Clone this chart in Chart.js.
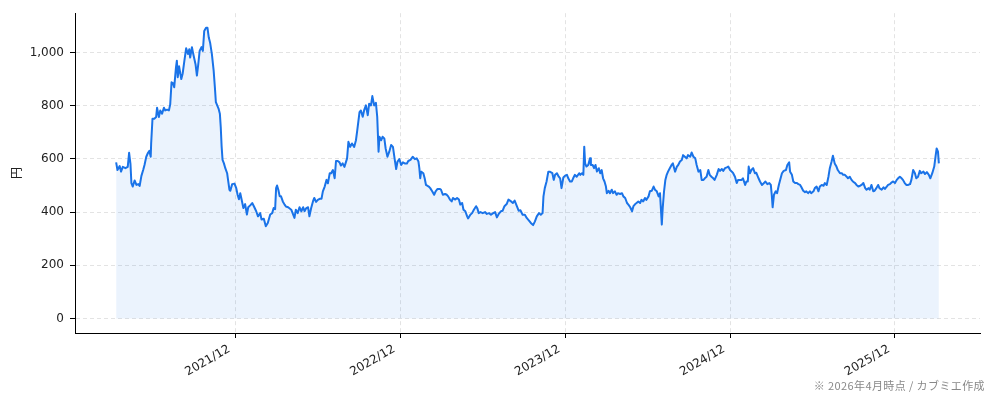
<!DOCTYPE html>
<html>
<head>
<meta charset="utf-8">
<script src="https://cdn.jsdelivr.net/npm/chart.js@4.4.1/dist/chart.umd.min.js"></script>
<style>
html,body{margin:0;padding:0;background:#fff;}
#wrap{position:relative;width:994px;height:401px;}
#note{position:absolute;right:9px;top:377px;font:11px "Noto Sans CJK JP",sans-serif;color:#888;letter-spacing:0.4px;white-space:nowrap;}
</style>
</head>
<body>
<div id="wrap">
<canvas id="c" width="994" height="401"></canvas>
<div id="note">※ 2026年4月時点 / カブミエ作成</div>
</div>
<script>
const dates = [
'2021-03-11','2021-03-14','2021-03-19','2021-03-22','2021-03-26',
'2021-04-01','2021-04-06','2021-04-09','2021-04-12','2021-04-14','2021-04-17','2021-04-21','2021-04-25','2021-04-29',
'2021-05-02','2021-05-06','2021-05-10','2021-05-13','2021-05-17','2021-05-21','2021-05-24','2021-05-27','2021-05-28','2021-05-31',
'2021-06-04','2021-06-08','2021-06-10','2021-06-14','2021-06-17','2021-06-21','2021-06-25','2021-06-28',
'2021-07-02','2021-07-06','2021-07-09','2021-07-12','2021-07-15','2021-07-18','2021-07-22','2021-07-24','2021-07-26','2021-07-29',
'2021-08-03','2021-08-06','2021-08-10','2021-08-14','2021-08-18','2021-08-21','2021-08-23','2021-08-27','2021-08-30',
'2021-09-04','2021-09-07','2021-09-10','2021-09-13','2021-09-17','2021-09-20','2021-09-23','2021-09-27','2021-09-30',
'2021-10-03','2021-10-06','2021-10-10','2021-10-14','2021-10-17','2021-10-19','2021-10-22','2021-10-25','2021-10-28','2021-10-30',
'2021-11-01','2021-11-03','2021-11-06','2021-11-09','2021-11-13','2021-11-15','2021-11-18','2021-11-20','2021-11-24','2021-11-29',
'2021-12-03','2021-12-06','2021-12-09','2021-12-12','2021-12-16','2021-12-19','2021-12-23','2021-12-27','2021-12-30',
'2022-01-04','2022-01-08','2022-01-12','2022-01-17','2022-01-21','2022-01-26','2022-01-29',
'2022-02-03','2022-02-07','2022-02-11','2022-02-16','2022-02-20','2022-02-23','2022-02-26','2022-02-28',
'2022-03-02','2022-03-05','2022-03-08','2022-03-11','2022-03-15','2022-03-19','2022-03-22','2022-03-27',
'2022-04-03','2022-04-07','2022-04-10','2022-04-13','2022-04-17','2022-04-21','2022-04-25','2022-04-29',
'2022-05-02','2022-05-06','2022-05-10','2022-05-13','2022-05-17','2022-05-21','2022-05-24','2022-05-28',
'2022-06-01','2022-06-05','2022-06-09','2022-06-12','2022-06-16','2022-06-20','2022-06-23','2022-06-27','2022-06-30',
'2022-07-04','2022-07-08','2022-07-11','2022-07-15','2022-07-19','2022-07-22','2022-07-26','2022-07-30',
'2022-08-05','2022-08-08','2022-08-12','2022-08-16','2022-08-21','2022-08-25','2022-08-28',
'2022-09-02','2022-09-05','2022-09-09','2022-09-12','2022-09-16','2022-09-20','2022-09-23','2022-09-27','2022-09-30',
'2022-10-04','2022-10-08','2022-10-11','2022-10-14','2022-10-16','2022-10-20','2022-10-23','2022-10-27','2022-10-30',
'2022-11-03','2022-11-07','2022-11-11','2022-11-15','2022-11-19','2022-11-22','2022-11-25','2022-11-29',
'2022-12-03','2022-12-07','2022-12-11','2022-12-16','2022-12-19','2022-12-24','2022-12-29',
'2023-01-03','2023-01-07','2023-01-11','2023-01-13','2023-01-15','2023-01-17','2023-01-22','2023-01-25','2023-01-28',
'2023-02-03','2023-02-06','2023-02-10','2023-02-14','2023-02-17','2023-02-21','2023-02-26','2023-02-28',
'2023-03-04','2023-03-09','2023-03-13','2023-03-16','2023-03-20','2023-03-24','2023-03-27',
'2023-04-01','2023-04-05','2023-04-09','2023-04-12','2023-04-16','2023-04-19','2023-04-23','2023-04-27','2023-04-29',
'2023-05-04','2023-05-08','2023-05-12','2023-05-17','2023-05-20','2023-05-23','2023-05-27',
'2023-06-01','2023-06-06','2023-06-10','2023-06-15','2023-06-19','2023-06-23','2023-06-28',
'2023-07-02','2023-07-06','2023-07-11','2023-07-15','2023-07-19','2023-07-24','2023-07-28',
'2023-08-03','2023-08-07','2023-08-11','2023-08-16','2023-08-20','2023-08-24','2023-08-29',
'2023-09-03','2023-09-07','2023-09-12','2023-09-16','2023-09-21','2023-09-25','2023-09-29',
'2023-10-04','2023-10-08','2023-10-12','2023-10-14','2023-10-17','2023-10-21','2023-10-25','2023-10-28',
'2023-11-03','2023-11-06','2023-11-09','2023-11-13','2023-11-17','2023-11-20','2023-11-23','2023-11-27',
'2023-12-01','2023-12-05','2023-12-08','2023-12-12','2023-12-16','2023-12-19','2023-12-23','2023-12-27',
'2024-01-02','2024-01-04','2024-01-08','2024-01-11','2024-01-13','2024-01-15','2024-01-18','2024-01-22','2024-01-26','2024-01-28',
'2024-02-01','2024-02-04','2024-02-07','2024-02-10','2024-02-14','2024-02-17','2024-02-20','2024-02-23','2024-02-26','2024-02-29',
'2024-03-02','2024-03-06','2024-03-09','2024-03-13','2024-03-16','2024-03-20','2024-03-24','2024-03-27',
'2024-04-01','2024-04-05','2024-04-08','2024-04-12','2024-04-16','2024-04-19','2024-04-23','2024-04-27','2024-04-30',
'2024-05-04','2024-05-07','2024-05-11','2024-05-15','2024-05-18','2024-05-22','2024-05-26','2024-05-29',
'2024-06-03','2024-06-06','2024-06-10','2024-06-14','2024-06-17','2024-06-21','2024-06-25','2024-06-28',
'2024-07-02','2024-07-04','2024-07-07','2024-07-10','2024-07-13','2024-07-16','2024-07-20','2024-07-24','2024-07-27',
'2024-08-01','2024-08-05','2024-08-08','2024-08-12','2024-08-16','2024-08-19','2024-08-23','2024-08-27','2024-08-30',
'2024-09-04','2024-09-07','2024-09-11','2024-09-15','2024-09-18','2024-09-22','2024-09-26','2024-09-29',
'2024-10-03','2024-10-06','2024-10-10','2024-10-14','2024-10-17','2024-10-21','2024-10-25','2024-10-28',
'2024-11-02','2024-11-06','2024-11-09','2024-11-13','2024-11-16','2024-11-20','2024-11-24','2024-11-27',
'2024-12-01','2024-12-05','2024-12-08','2024-12-12','2024-12-16','2024-12-19','2024-12-23','2024-12-27','2024-12-30',
'2025-01-04','2025-01-07','2025-01-10','2025-01-12','2025-01-15','2025-01-18','2025-01-22','2025-01-26','2025-01-29',
'2025-02-03','2025-02-06','2025-02-10','2025-02-14','2025-02-17','2025-02-21','2025-02-25','2025-02-28',
'2025-03-02','2025-03-04','2025-03-07','2025-03-11','2025-03-14','2025-03-18','2025-03-22','2025-03-25','2025-03-29',
'2025-04-03','2025-04-06','2025-04-10','2025-04-12','2025-04-16','2025-04-19','2025-04-23','2025-04-27','2025-04-30',
'2025-05-04','2025-05-07','2025-05-11','2025-05-15','2025-05-18','2025-05-22','2025-05-26','2025-05-29',
'2025-06-03','2025-06-06','2025-06-10','2025-06-14','2025-06-17','2025-06-21','2025-06-25','2025-06-28',
'2025-07-02','2025-07-06','2025-07-09','2025-07-13','2025-07-16','2025-07-20','2025-07-24','2025-07-27',
'2025-08-01','2025-08-05','2025-08-08','2025-08-12','2025-08-16','2025-08-19','2025-08-23','2025-08-27','2025-08-30',
'2025-09-04','2025-09-07','2025-09-11','2025-09-15','2025-09-18','2025-09-22','2025-09-26','2025-09-29',
'2025-10-03','2025-10-06','2025-10-10','2025-10-14','2025-10-17','2025-10-21','2025-10-25','2025-10-28',
'2025-11-02','2025-11-06','2025-11-09','2025-11-13','2025-11-16','2025-11-20','2025-11-24','2025-11-27',
'2025-12-01','2025-12-05','2025-12-08','2025-12-12','2025-12-16','2025-12-19','2025-12-23','2025-12-27','2025-12-30',
'2026-01-04','2026-01-07','2026-01-11','2026-01-15','2026-01-18','2026-01-22','2026-01-26','2026-01-29',
'2026-02-03','2026-02-06','2026-02-10','2026-02-14','2026-02-17','2026-02-21','2026-02-25','2026-02-28',
'2026-03-02','2026-03-05','2026-03-07'
];
const prices = [
587,558,573,552,570,
565,570,623,580,509,496,519,502,505,
498,536,558,577,608,623,630,608,658,751,
751,757,792,757,782,770,792,782,
785,782,805,888,885,869,944,969,907,948,
900,920,969,1016,994,1012,981,1020,994,
956,913,956,1006,1020,1006,1081,1093,1093,
1056,1037,994,932,863,813,801,789,770,720,
646,596,583,565,546,521,484,480,505,507,
490,465,448,471,440,415,430,391,418,
426,434,421,403,384,396,372,
375,347,359,391,396,415,411,490,
500,483,459,459,440,428,421,418,
409,391,378,409,396,418,403,418,
403,415,418,384,415,440,453,438,
446,450,450,478,496,521,508,546,546,
558,527,592,592,587,575,583,570,
602,664,645,658,645,670,708,
776,782,758,782,801,764,807,801,836,
801,811,758,627,683,670,683,677,639,
608,627,652,645,596,562,590,599,
577,587,583,583,592,596,608,
599,602,590,565,527,552,546,527,502,
496,490,478,465,478,487,487,484,
465,468,465,459,447,440,453,
447,453,447,428,434,409,403,384,376,
390,396,409,422,413,396,400,
396,400,393,396,390,395,400,
380,393,403,405,422,430,447,
440,434,443,422,405,407,390,
390,378,368,359,351,365,384,
396,390,396,459,490,515,552,552,
546,521,540,546,533,527,490,530,
537,540,527,515,515,527,540,533,
546,540,546,540,646,583,571,577,602,577,
577,565,577,552,565,546,558,527,515,496,
471,480,471,484,471,478,465,471,
468,471,459,453,434,428,418,403,422,
430,434,440,434,446,440,453,446,
459,478,480,496,484,478,459,471,
353,415,478,521,540,552,565,577,583,
552,571,577,590,596,614,608,602,614,
608,624,608,602,577,552,558,521,
521,527,533,558,540,533,527,521,
540,562,555,562,555,565,568,571,
558,552,546,533,509,521,521,521,527,
502,515,515,571,546,558,565,546,548,
527,515,502,509,515,505,509,502,
465,418,465,478,471,502,527,546,555,
558,577,587,552,540,515,509,509,505,
502,493,480,475,478,471,478,471,
478,490,496,478,496,502,499,509,
502,534,565,590,612,583,571,558,
546,546,540,540,533,527,533,521,515,
509,502,496,499,502,509,490,484,
490,484,502,478,480,490,502,490,
484,493,487,496,502,505,512,515,
509,521,527,533,527,521,509,502,502,
505,521,558,546,527,533,555,546,
552,543,550,540,527,546,571,614,
639,627,583
];
const tickDates = ['2021-12-01','2022-12-01','2023-12-01','2024-12-01','2025-12-01'];
const tickLabels = ['2021/12','2022/12','2023/12','2024/12','2025/12'];
const yTicks = [0,200,400,600,800,1000];
const yTitle = '円';

function toMonths(s){
  const [y,m,d] = s.split('-').map(Number);
  const dim = new Date(Date.UTC(y, m, 0)).getUTCDate();
  return (y - 2021) * 12 + (m - 1) + (d - 1) / dim;
}
const points = dates.map((d, i) => ({x: toMonths(d), y: prices[i]}));
const xs = points.map(p => p.x);
const xLo = Math.min(...xs), xHi = Math.max(...xs), xSpan = xHi - xLo;
const yHiData = Math.max(...prices), ySpan = yHiData - 0;

const FONT = '"DejaVu Sans", "Noto Sans CJK JP", sans-serif';
const gridCommon = {color:'#e3e3e3', lineWidth:1, tickColor:'#000', tickLength:5, tickWidth:1, tickBorderDash:[]};
const borderCommon = {display:true, color:'#000', width:1, dash:[4,3]};

new Chart(document.getElementById('c'), {
  type: 'line',
  data: {
    datasets: [{
      data: points,
      borderColor: '#1a73e8',
      backgroundColor: 'rgba(26,115,232,0.085)',
      borderWidth: 2,
      pointRadius: 0,
      tension: 0,
      fill: 'origin',
      borderJoinStyle: 'round'
    }]
  },
  options: {
    responsive: false,
    animation: false,
    devicePixelRatio: 1,
    layout: {padding: {left: 0, top: 10, right: 14, bottom: 0}},
    plugins: {legend: {display: false}, tooltip: {enabled: false}},
    scales: {
      x: {
        type: 'linear',
        min: xLo - 0.05 * xSpan,
        max: xHi + 0.05 * xSpan,
        grid: gridCommon,
        border: borderCommon,
        afterBuildTicks: s => { s.ticks = tickDates.map(d => ({value: toMonths(d)})); },
        afterFit: s => { s.height = 68; },
        ticks: {
          autoSkip: false,
          minRotation: 30, maxRotation: 30,
          padding: 4,
          labelOffset: -6,
          color: '#222',
          font: {family: FONT, size: 12},
          callback: (v, i) => tickLabels[i]
        }
      },
      y: {
        type: 'linear',
        min: -0.05 * ySpan,
        max: yHiData + 0.05 * ySpan,
        grid: gridCommon,
        border: borderCommon,
        afterBuildTicks: s => { s.ticks = yTicks.map(v => ({value: v})); },
        afterFit: s => { s.width = 75; },
        title: {display: true, text: yTitle, color: '#222', font: {family: FONT, size: 12}, padding: {top: 11, bottom: 0}},
        ticks: {
          padding: 6,
          color: '#222',
          font: {family: FONT, size: 12},
          callback: v => v.toLocaleString('en-US')
        }
      }
    }
  }
});
</script>
</body>
</html>
